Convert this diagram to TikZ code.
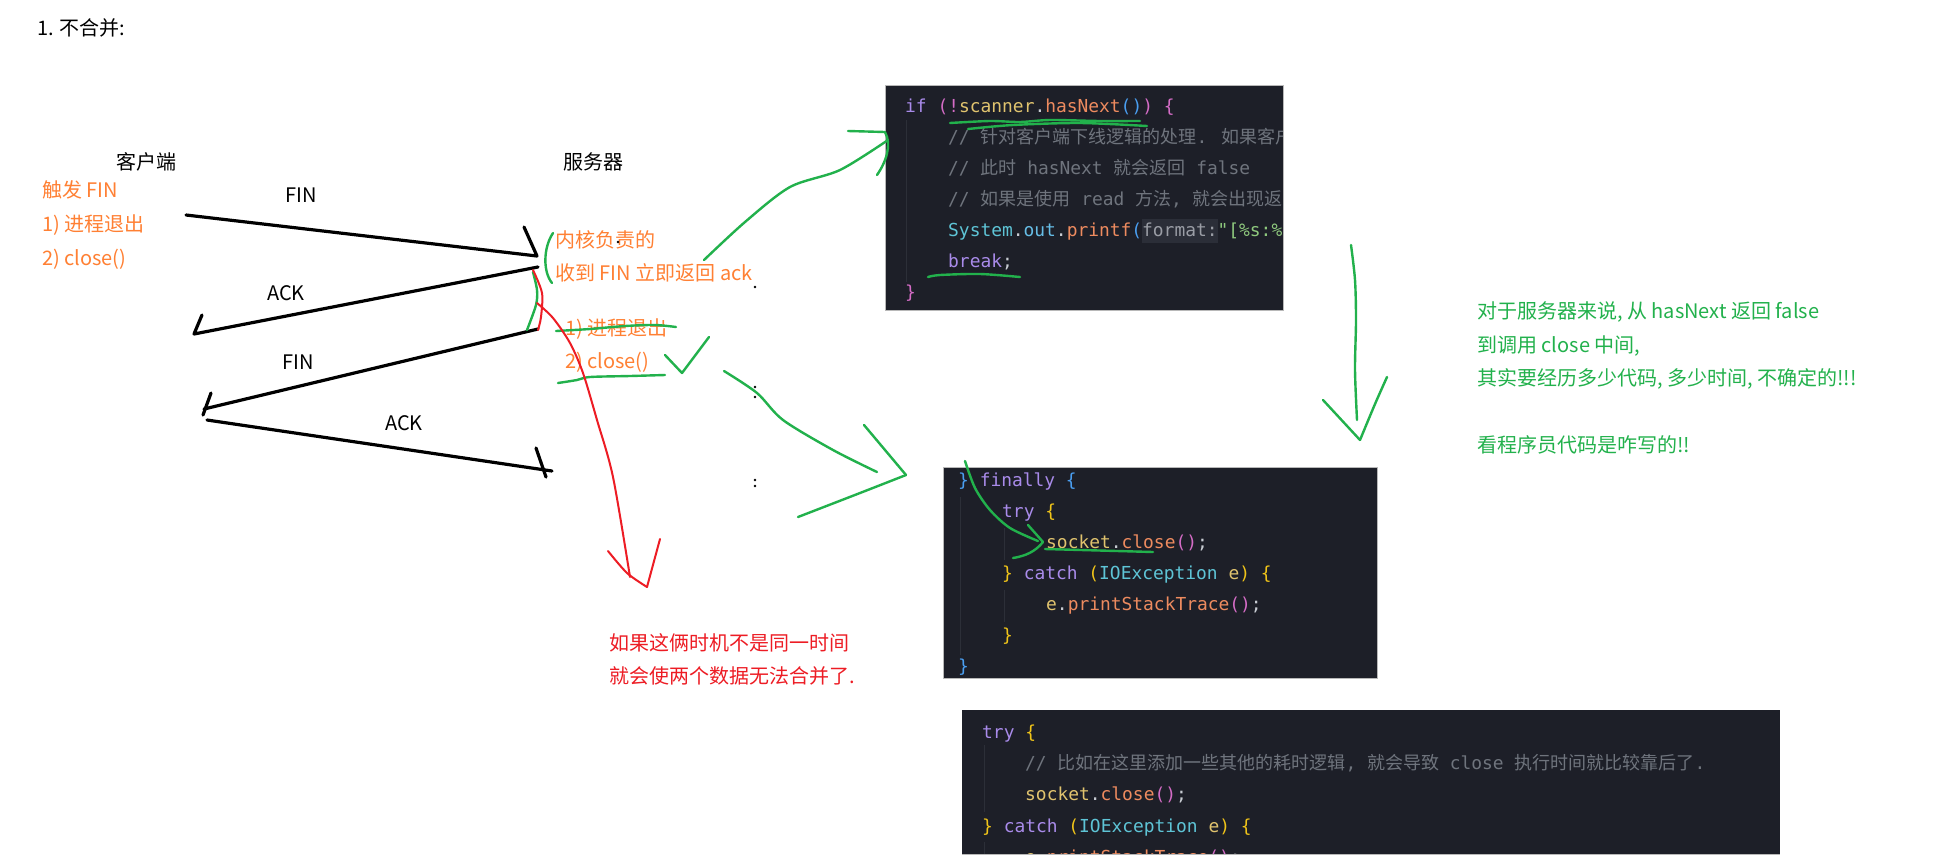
\documentclass[tikz,border=0pt]{standalone}
\usepackage{fontspec}
\setmainfont{Noto Sans CJK SC}
\newfontfamily\cjkfont{Noto Sans CJK SC}
\newfontfamily\codefont{DejaVu Sans Mono}
\definecolor{pgreen}{HTML}{22B14C}
\definecolor{pred}{HTML}{ED1C24}
\definecolor{porange}{HTML}{FF8033}
\definecolor{codebg}{HTML}{1D1F28}
\definecolor{boxborder}{HTML}{B8B8B8}
\definecolor{guidec}{HTML}{2C2F38}
\definecolor{kw}{HTML}{A98BEA}
\definecolor{pk}{HTML}{D46CC6}
\definecolor{bl}{HTML}{4A9EF0}
\definecolor{var}{HTML}{E0C36E}
\definecolor{yb}{HTML}{F0C419}
\definecolor{fn}{HTML}{EE8B5F}
\definecolor{cy}{HTML}{5EC4D6}
\definecolor{cyb}{HTML}{66BDE6}
\definecolor{fg}{HTML}{C8CCD3}
\definecolor{cm}{HTML}{6F747D}
\definecolor{str}{HTML}{8FC97E}
\definecolor{hint}{HTML}{9A9DA5}
\definecolor{hintbg}{HTML}{2B2E38}
\newcommand\tkc[2]{\textcolor{#1}{#2}}
\newcommand\cjkc[1]{{\cjkfont\fontsize{18}{20}\selectfont #1}}
\tikzset{
  txt/.style={font=\fontsize{20}{24}\selectfont, anchor=base west, inner sep=0pt},
  codeline/.style={font=\codefont\fontsize{17.9}{20}\selectfont, anchor=base west, inner sep=0pt, text=fg},
  blk/.style={draw=black, line width=3.2pt, line cap=round, line join=round},
  grn/.style={draw=pgreen, line width=2.4pt, line cap=round, line join=round},
  rd/.style={draw=pred, line width=2pt, line cap=round, line join=round},
  codebox/.style={fill=codebg},
  boxedge/.style={draw=boxborder, line width=1pt},
  guide/.style={draw=guidec, line width=1pt},
}
\begin{document}
\begin{tikzpicture}[x=1pt,y=-1pt]
\useasboundingbox[fill=white] (0,0) rectangle (1937,863);

% ---------- texts left ----------
\node[txt] (title) at (37,35) {1. 不合并:};
\node[txt] (client) at (116,169) {客户端};
\node[txt] (server) at (563,169) {服务器};
\node[txt,text=porange] (ct1) at (42,197) {触发 FIN};
\node[txt,text=porange] (ct2) at (42,231) {1) 进程退出};
\node[txt,text=porange] (ct3) at (42,265) {2) close()};

\node[txt,anchor=base] (lfin1) at (301,202) {FIN};
\node[txt,anchor=base] (lack1) at (286,300) {ACK};
\node[txt,anchor=base] (lfin2) at (298,369) {FIN};
\node[txt,anchor=base] (lack2) at (404,430) {ACK};

\node[txt,text=porange] (st1) at (555,247) {内核负责的};
\node[txt,text=porange] (st2) at (555,280) {收到 FIN 立即返回 ack};
\node[txt,text=porange] (st3) at (565,335) {1) 进程退出};
\node[txt,text=porange] (st4) at (565,368) {2) close()};

\node[txt,text=pred] (rt1) at (609,650) {如果这俩时机不是同一时间};
\node[txt,text=pred] (rt2) at (609,683) {就会使两个数据无法合并了.};

\node[txt,text=pgreen] (gt1) at (1477,318) {对于服务器来说, 从 hasNext 返回 false};
\node[txt,text=pgreen] (gt2) at (1477,352) {到调用 close 中间,};
\node[txt,text=pgreen] (gt3) at (1477,385) {其实要经历多少代码, 多少时间, 不确定的!!!};
\node[txt,text=pgreen] (gt4) at (1477,452) {看程序员代码是咋写的!!};

% ---------- black arrows ----------
\coordinate (f1a) at (186,215); \coordinate (f1b) at (537,256); \coordinate (f1h) at (524,227);
\coordinate (a1a) at (538,267); \coordinate (a1b) at (194,334); \coordinate (a1h) at (202,315);
\coordinate (f2a) at (538,329); \coordinate (f2b) at (204,409); \coordinate (f2h) at (211,393); \coordinate (f2t) at (203,415);
\coordinate (a2a) at (207,420); \coordinate (a2b) at (552,471); \coordinate (a2h) at (536,448); \coordinate (a2t) at (546,477);
\draw[blk] (f1a) -- (f1b) -- (f1h);
\draw[blk] (a1a) -- (a1b) -- (a1h);
\draw[blk] (f2a) -- (f2b);
\draw[blk] (f2h) -- (f2t);
\draw[blk] (a2a) -- (a2b);
\draw[blk] (a2h) -- (a2t);

% stray dots
\foreach \p in {(618,242),(755,287),(755,387),(755,397),(755,480),(755,486)}
  \fill[black] \p circle (1.3);

% ---------- code box 1 ----------
\fill[codebg] (885,85) rectangle (1283,310);
\begin{scope}
\clip (885,85) rectangle (1283,310);
\draw[guide] (906,120) -- (906,282);
\fill[hintbg] (1142,219) rectangle (1218,243);
\node[codeline] (b1l1) at (905,112) {\tkc{kw}{if} \tkc{pk}{(!}\tkc{var}{scanner}\tkc{fg}{.}\tkc{fn}{hasNext}\tkc{bl}{()}\tkc{pk}{)} \tkc{pk}{\{}};
\node[codeline] (b1l2) at (948,143) {\tkc{cm}{// \cjkc{针对客户端下线逻辑的处理}. \cjkc{如果客户端}}};
\node[codeline] (b1l3) at (948,174) {\tkc{cm}{// \cjkc{此时} hasNext \cjkc{就会返回} false}};
\node[codeline] (b1l4) at (948,205) {\tkc{cm}{// \cjkc{如果是使用} read \cjkc{方法}, \cjkc{就会出现返回}}};
\node[codeline] (b1l5) at (948,236) {\tkc{cy}{System}\tkc{fg}{.}\tkc{cyb}{out}\tkc{fg}{.}\tkc{fn}{printf}\tkc{bl}{(}\tkc{hint}{format:}\tkc{str}{"[\%s:\%d]}};
\node[codeline] (b1l6) at (948,267) {\tkc{kw}{break}\tkc{fg}{;}};
\node[codeline] (b1l7) at (905,298) {\tkc{pk}{\}}};
\end{scope}
\draw[boxedge] (885,85) rectangle (1283,310);

% ---------- code box 2 ----------
\fill[codebg] (943,467) rectangle (1377,678);
\begin{scope}
\clip (943,467) rectangle (1377,678);
\draw[guide] (960,497) -- (960,655);
\draw[guide] (1004,528) -- (1004,560);
\draw[guide] (1004,590) -- (1004,622);
\node[codeline] (b2l1) at (958,486) {\tkc{bl}{\}} \tkc{kw}{finally} \tkc{bl}{\{}};
\node[codeline] (b2l2) at (1002,517) {\tkc{kw}{try} \tkc{yb}{\{}};
\node[codeline] (b2l3) at (1046,548) {\tkc{var}{socket}\tkc{fg}{.}\tkc{fn}{close}\tkc{pk}{()}\tkc{fg}{;}};
\node[codeline] (b2l4) at (1002,579) {\tkc{yb}{\}} \tkc{kw}{catch} \tkc{yb}{(}\tkc{cy}{IOException} \tkc{var}{e}\tkc{yb}{)} \tkc{yb}{\{}};
\node[codeline] (b2l5) at (1046,610) {\tkc{var}{e}\tkc{fg}{.}\tkc{fn}{printStackTrace}\tkc{pk}{()}\tkc{fg}{;}};
\node[codeline] (b2l6) at (1002,641) {\tkc{yb}{\}}};
\node[codeline] (b2l7) at (958,672) {\tkc{bl}{\}}};
\end{scope}
\draw[boxedge] (943,467) rectangle (1377,678);

% ---------- code box 3 ----------
\fill[codebg] (962,710) rectangle (1780,854);
\begin{scope}
\clip (962,710) rectangle (1780,854);
\draw[guide] (984,745) -- (984,812);
\draw[guide] (984,842) -- (984,854);
\node[codeline] (b3l1) at (982,738) {\tkc{kw}{try} \tkc{yb}{\{}};
\node[codeline] (b3l2) at (1025,769) {\tkc{cm}{// \cjkc{比如在这里添加一些其他的耗时逻辑}, \cjkc{就会导致} close \cjkc{执行时间就比较靠后了}.}};
\node[codeline] (b3l3) at (1025,800) {\tkc{var}{socket}\tkc{fg}{.}\tkc{fn}{close}\tkc{pk}{()}\tkc{fg}{;}};
\node[codeline] (b3l4) at (982,832) {\tkc{yb}{\}} \tkc{kw}{catch} \tkc{yb}{(}\tkc{cy}{IOException} \tkc{var}{e}\tkc{yb}{)} \tkc{yb}{\{}};
\node[codeline] (b3l5) at (1025,863) {\tkc{var}{e}\tkc{fg}{.}\tkc{fn}{printStackTrace}\tkc{pk}{()}\tkc{fg}{;}};
\end{scope}
\draw[boxedge] (962,854) -- (1780,854);

% ---------- green strokes ----------
\draw[grn] (553,233) .. controls (543,248) and (543,272) .. (552,283);
\draw[grn] plot[smooth] coordinates {(533,272) (537,290) (536,305) (527,330)};
\draw[grn] plot[smooth] coordinates {(556,331) (590,329) (625,326) (655,325) (676,327)};
\draw[grn] plot[smooth] coordinates {(558,383) (577,380) (590,377) (630,376) (665,375)};
\draw[grn] (665,355) -- (682,373) -- (709,337);
% arrow to box 1
\draw[grn] plot[smooth] coordinates {(704,260) (745,222) (790,187) (840,170) (888,140)};
\draw[grn] (848,131) -- (885,132);
\draw[grn] (885,132) .. controls (892,145) and (886,162) .. (877,175);
% arrow to box 2
\draw[grn] plot[smooth] coordinates {(724,371) (757,393) (783,420) (833,450) (877,472)};
\draw[grn] plot[smooth] coordinates {(864,425) (885,450) (906,475)};
\draw[grn] plot[smooth] coordinates {(906,475) (860,493) (798,517)};
% box 1 underlines
\draw[grn] plot[smooth] coordinates {(950,123) (990,121) (1020,122) (1050,120) (1100,121) (1140,121)};
\draw[grn] plot[smooth] coordinates {(968,129) (1013,125) (1080,123) (1147,126)};
\draw[grn] plot[smooth] coordinates {(928,277) (940,275) (980,274) (1020,277)};
% box 2 marks
\draw[grn] plot[smooth] coordinates {(965,461) (975,488) (990,510) (1010,528) (1038,541)};
\draw[grn] (1028,525) -- (1043,542) .. controls (1035,552) and (1025,556) .. (1013,558);
\draw[grn] (1045,549) -- (1153,552);
% right vertical arrow
\draw[grn] plot[smooth] coordinates {(1351,245) (1355,280) (1356,320) (1355,370) (1357,420)};
\draw[grn] (1323,400) -- (1360,440);
\draw[grn] plot[smooth] coordinates {(1360,440) (1375,404) (1387,377)};

% ---------- red strokes ----------
\draw[rd] plot[smooth] coordinates {(533,270) (542,293) (541,317) (538,330)};
\draw[rd] plot[smooth] coordinates {(537,303) (553,318) (570,343) (583,373) (597,420) (613,477) (630,577)};
\draw[rd] plot[smooth] coordinates {(608,551) (627,573) (647,587)};
\draw[rd] (647,587) -- (660,539);
\end{tikzpicture}
\end{document}
